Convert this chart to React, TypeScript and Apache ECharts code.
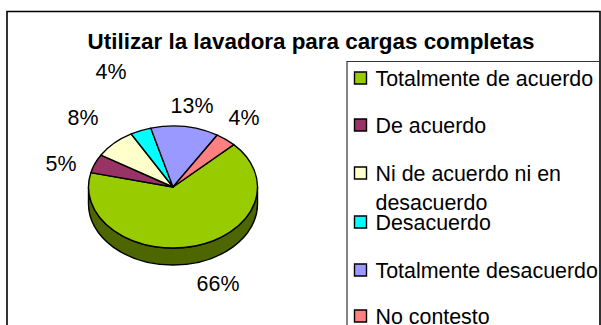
import React, { useEffect, useRef } from "react";
import * as echarts from "echarts";

const titleText = "Utilizar la lavadora para cargas completas";
const categories = ["Totalmente de acuerdo", "De acuerdo", "Ni de acuerdo ni en\ndesacuerdo", "Desacuerdo", "Totalmente desacuerdo", "No contesto"];
const values = [66, 5, 8, 4, 13, 4];
const colors = ["#99CC00", "#993366", "#FFFFCC", "#00FFFF", "#9999FF", "#FF8080"];
const sideColor = "#4D6600";
const FONT = "'Liberation Sans', Arial, sans-serif";

const CX = 173, CY = 187, RX = 84.5, RY = 61, DEPTH = 17;
const START_DEG = 46;
const labelPos = [[218, 284], [61, 164], [83, 118], [111, 72], [192, 106], [244, 118]];
const legendY = [78, 125, 173, 222, 270, 316];
const LEGEND_LINE_GAP = 29;

const total = values.reduce((a, b) => a + b, 0);
const pt = (deg: number, dy = 0): [number, number] => {
  const r = (deg * Math.PI) / 180;
  return [CX + RX * Math.sin(r), CY - RY * Math.cos(r) + dy];
};

function renderSlice(params: any, api: any) {
  const i = params.dataIndex;
  let before = 0;
  for (let k = 0; k < i; k++) before += values[k];
  const a0 = START_DEG + (before / total) * 360;
  const a1 = a0 + (api.value(0) / total) * 360;
  const [x0, y0] = pt(a0);
  const [x1, y1] = pt(a1);
  const large = a1 - a0 > 180 ? 1 : 0;
  const top = `M${CX} ${CY}L${x0} ${y0}A${RX} ${RY} 0 ${large} 1 ${x1} ${y1}Z`;
  const children: any[] = [];
  const w0 = Math.max(a0, 90), w1 = Math.min(a1, 270);
  if (w1 > w0) {
    const [p0x, p0y] = pt(w0);
    const [p1x, p1y] = pt(w1);
    const [q0x, q0y] = pt(w0, DEPTH);
    const [q1x, q1y] = pt(w1, DEPTH);
    const lg = w1 - w0 > 180 ? 1 : 0;
    children.push({
      type: "path",
      shape: { pathData: `M${p0x} ${p0y}A${RX} ${RY} 0 ${lg} 1 ${p1x} ${p1y}L${q1x} ${q1y}A${RX} ${RY} 0 ${lg} 0 ${q0x} ${q0y}Z` },
      style: { fill: sideColor, stroke: "#000", lineWidth: 1.4 },
    });
  }
  children.push({
    type: "path",
    shape: { pathData: top },
    style: { fill: colors[i], stroke: "#000", lineWidth: 1.4, lineJoin: "round" },
  });
  return { type: "group", children };
}

export default function App() {
  const ref = useRef<HTMLDivElement>(null);
  useEffect(() => {
    document.body.style.margin = "0";
    const chart = echarts.init(ref.current!, null, { renderer: "svg" });
    const legendGraphics: any[] = [];
    categories.forEach((name, i) => {
      legendGraphics.push({
        type: "rect",
        shape: { x: 354.5, y: legendY[i] - 6, width: 12, height: 12 },
        style: { fill: colors[i], stroke: "#000", lineWidth: 1.4 },
      });
      name.split("\n").forEach((line, k) => {
        legendGraphics.push({
          type: "text",
          x: 375.5,
          y: legendY[i] + k * LEGEND_LINE_GAP - 7,
          style: { text: line, fill: "#000", font: `21.4px ${FONT}`, lineHeight: 16, textVerticalAlign: "top" },
        });
      });
    });
    chart.setOption({
      animation: false,
      backgroundColor: "#fff",
      title: {
        text: titleText,
        left: 306,
        top: 25,
        textAlign: "center",
        textStyle: { fontFamily: FONT, fontSize: 22.4, fontWeight: "bold", color: "#000" },
      },
      series: [
        {
          type: "custom",
          coordinateSystem: "none",
          renderItem: renderSlice,
          data: values.map((v, i) => ({ name: categories[i], value: [v] })),
          silent: true,
          z: 3,
        },
      ],
      graphic: [
        { type: "rect", shape: { x: 7, y: 11.5, width: 593, height: 340 }, style: { fill: "none", stroke: "#000", lineWidth: 1.6 }, silent: true },
        { type: "rect", shape: { x: 347, y: 61.5, width: 253, height: 290 }, style: { fill: "none", stroke: "#333", lineWidth: 1.2 }, silent: true },
        ...legendGraphics,
        ...values.map((v, i) => ({
          type: "text",
          x: labelPos[i][0],
          y: labelPos[i][1],
          style: { text: `${v}%`, fill: "#000", font: `21.4px ${FONT}`, textAlign: "center", textVerticalAlign: "middle" },
        })),
      ],
    });
    return () => chart.dispose();
  }, []);
  return <div ref={ref} style={{ width: 601, height: 325 }} />;
}
